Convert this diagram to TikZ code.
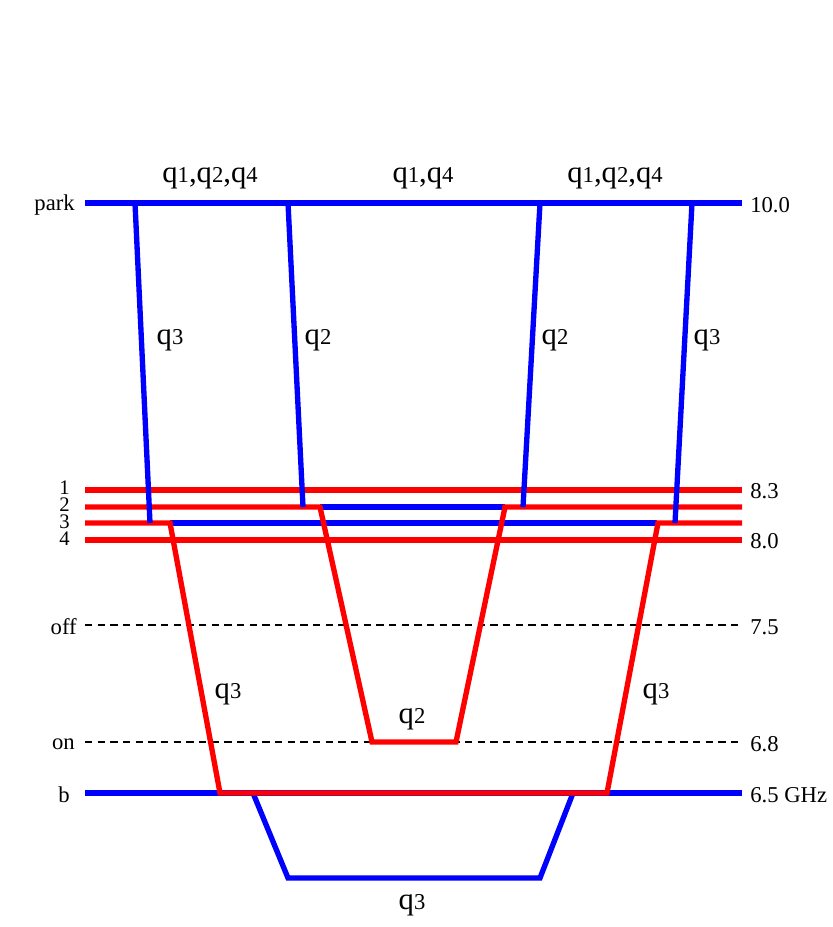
\documentclass[tikz,border=0pt]{standalone}
\usepackage{fontspec}
\setmainfont{Liberation Serif}
\newcommand{\qq}[1]{{\fontsize{23}{23}\selectfont q}{\fontsize{17}{17}\selectfont #1}}
\newcommand{\cm}{{\fontsize{23}{23}\selectfont ,}}
\begin{document}
\begin{tikzpicture}[x=0.75pt,y=-0.75pt,
  blueline/.style={draw=blue,line width=4pt,line join=miter},
  redline/.style={draw=red,line width=4pt,line join=miter},
  dashline/.style={draw=black,line width=2.1pt,dash pattern=on 5.5pt off 4pt},
  lab/.style={font=\fontsize{17}{17}\selectfont,inner sep=0pt},
  numlab/.style={font=\fontsize{15.5}{15.5}\selectfont,inner sep=0pt},
  qlab/.style={inner sep=0pt}]
\useasboundingbox (0,0) rectangle (832,927);
% coordinates
\coordinate (pL) at (85,203);   \coordinate (pR) at (742,203);
\coordinate (l1L) at (85,490);  \coordinate (l1R) at (742,490);
\coordinate (l2L) at (85,507);  \coordinate (l2R) at (742,507);
\coordinate (l3L) at (85,523);  \coordinate (l3R) at (742,523);
\coordinate (l4L) at (85,540);  \coordinate (l4R) at (742,540);
\coordinate (offL) at (85,625); \coordinate (offR) at (742,625);
\coordinate (onL) at (85,742);  \coordinate (onR) at (742,742);
\coordinate (bL) at (85,793);   \coordinate (bR) at (742,793);
% left labels
\node[lab,anchor=east] (tpark) at (75,205) {park};
\node[numlab,anchor=east] (t1) at (70,488) {1};
\node[numlab,anchor=east] (t2) at (70,505) {2};
\node[numlab,anchor=east] (t3) at (70,522) {3};
\node[numlab,anchor=east] (t4) at (70,539) {4};
\node[lab,anchor=east] (toff) at (77,627) {off};
\node[lab,anchor=east] (ton) at (75,744) {on};
\node[lab,anchor=east] (tb) at (70,795) {b};
% right labels
\node[lab,anchor=west] (r10) at (750,205) {10.0};
\node[lab,anchor=west] (r83) at (750,491) {8.3};
\node[lab,anchor=west] (r80) at (750,541) {8.0};
\node[lab,anchor=west] (r75) at (750,627) {7.5};
\node[lab,anchor=west] (r68) at (750,744) {6.8};
\node[lab,anchor=west] (r65) at (750,795) {6.5 GHz};
% dashed lines
\draw[dashline] (offL) -- (offR);
\draw[dashline] (onL) -- (onR);
% red full lines
\draw[redline] (l1L) -- (l1R);
\draw[redline] (l4L) -- (l4R);
% blue segments on lines 2 and 3
\draw[blueline] (320,507) -- (505,507);
\draw[blueline] (170,523) -- (657,523);
% blue b line and trapezoid
\draw[blueline] (bL) -- (bR);
\draw[blueline] (253,793) -- (288,878) -- (540,878) -- (573,793);
% red paths
\draw[redline] (l2L) -- (320,507) -- (372,742) -- (456,742) -- (505,507) -- (l2R);
\draw[redline] (l3L) -- (170,523) -- (220,793) -- (607,793) -- (658,523) -- (l3R);
% blue verticals and park line
\draw[blueline] (135,203) -- (150,523);
\draw[blueline] (288,203) -- (303,507);
\draw[blueline] (540,203) -- (523,507);
\draw[blueline] (692,203) -- (675,523);
\draw[blueline] (pL) -- (pR);
% q labels
\node[qlab] (a1) at (210,178) {\qq{1}\cm\qq{2}\cm\qq{4}};
\node[qlab] (a2) at (423,178) {\qq{1}\cm\qq{4}};
\node[qlab] (a3) at (615,178) {\qq{1}\cm\qq{2}\cm\qq{4}};
\node[qlab] (v1) at (170,340) {\qq{3}};
\node[qlab] (v2) at (318,340) {\qq{2}};
\node[qlab] (v3) at (555,340) {\qq{2}};
\node[qlab] (v4) at (707,340) {\qq{3}};
\node[qlab] (w1) at (228,694) {\qq{3}};
\node[qlab] (w2) at (412,719) {\qq{2}};
\node[qlab] (w3) at (656,694) {\qq{3}};
\node[qlab] (w4) at (412,905) {\qq{3}};
\end{tikzpicture}
\end{document}
